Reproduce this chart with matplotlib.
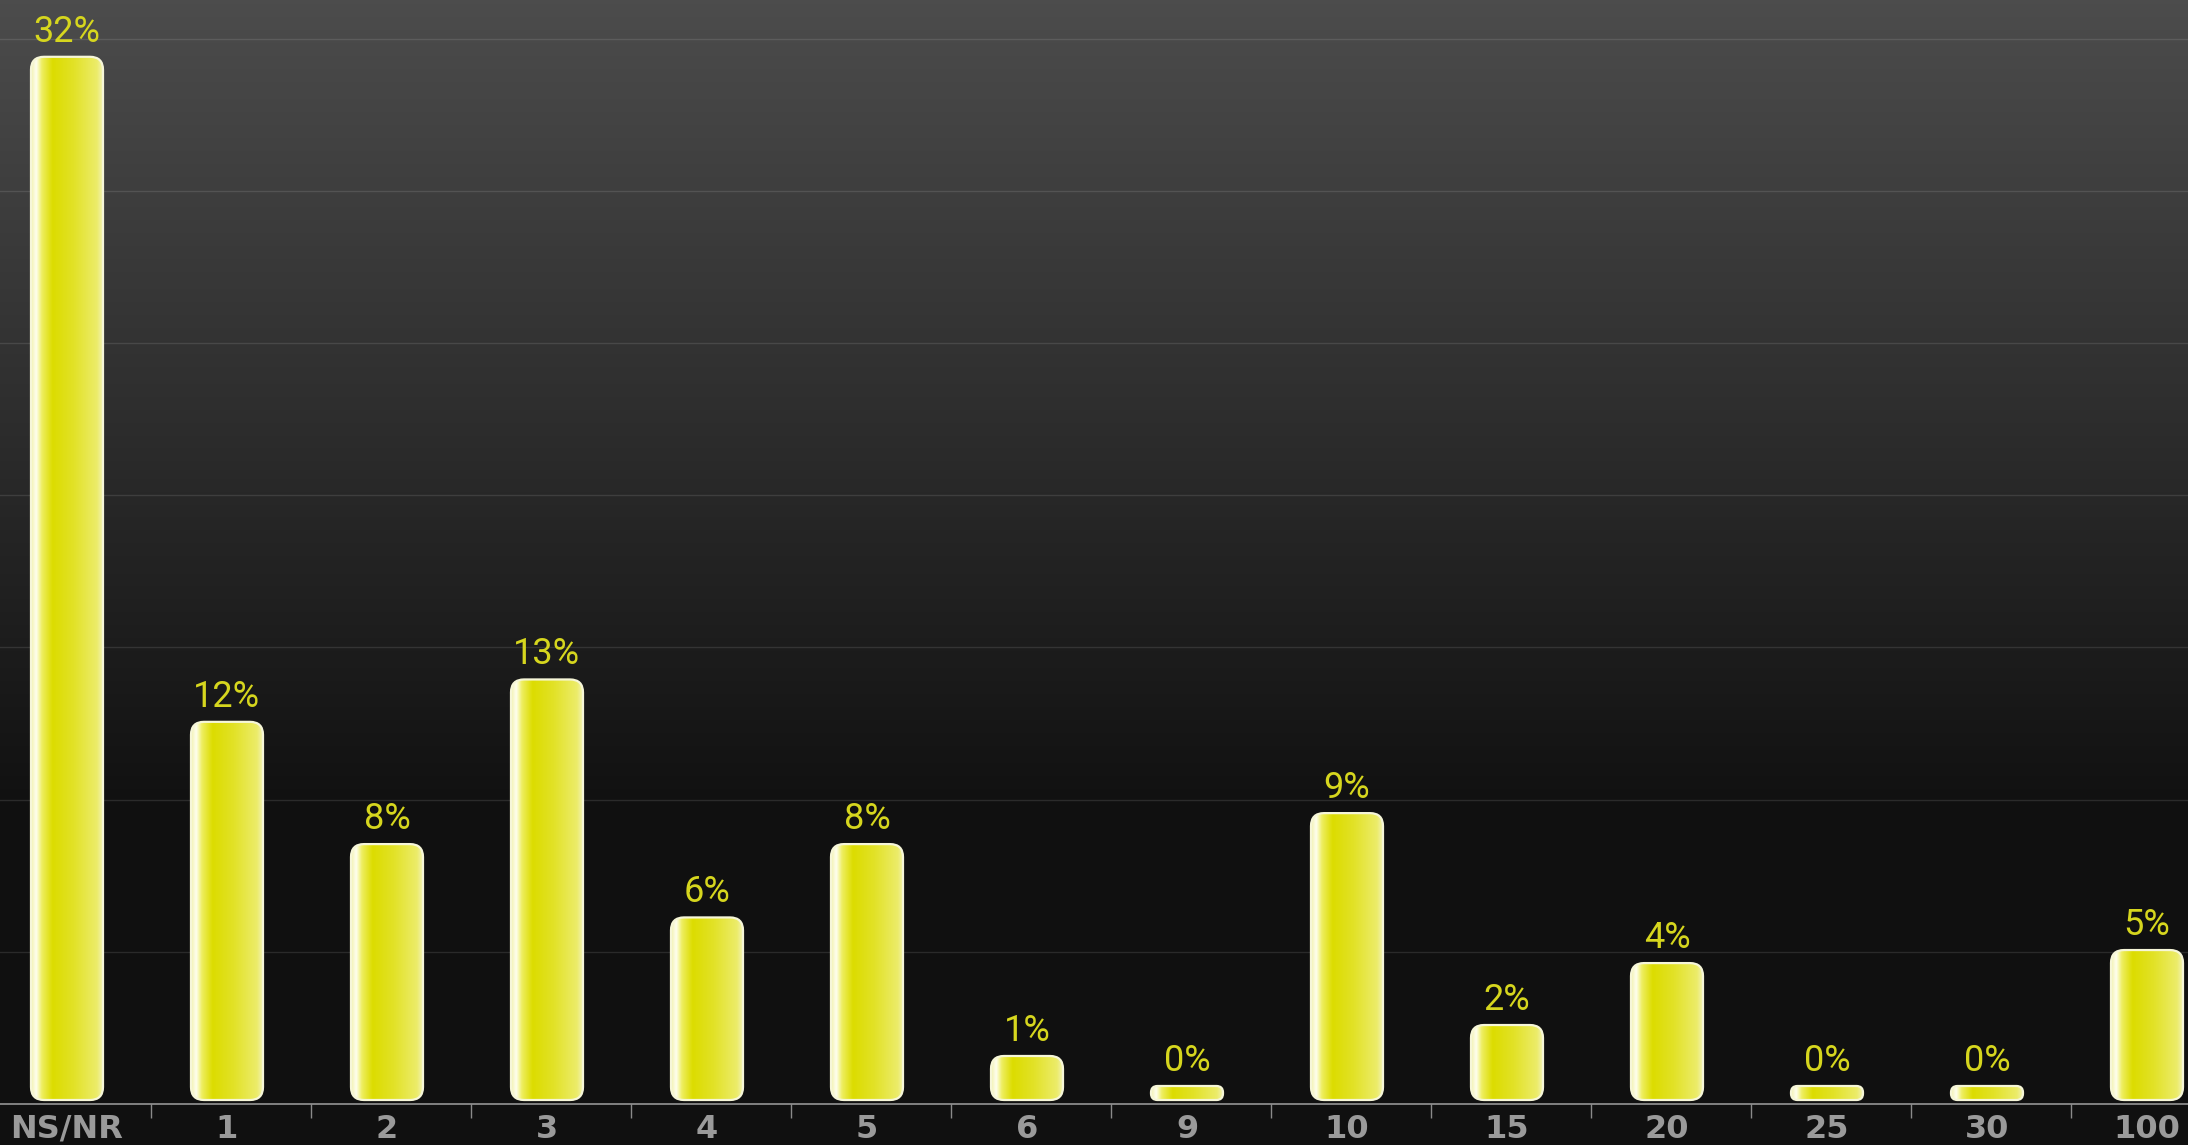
import numpy as np
import matplotlib
matplotlib.use("Agg")
import matplotlib.pyplot as plt
from matplotlib.patches import FancyBboxPatch
from matplotlib.colors import LinearSegmentedColormap

# ---- data ----
categories = ["NS/NR", "1", "2", "3", "4", "5", "6", "9", "10", "15", "20", "25", "30", "100"]
values = [32.0, 11.6, 7.85, 12.9, 5.6, 7.85, 1.35, 0.3, 8.8, 2.3, 4.2, 0.3, 0.3, 4.6]
labels = [f"{int(round(v))}%" for v in values]

# ---- figure geometry ----
W, H, DPI = 2188, 1145, 100
fig = plt.figure(figsize=(W / DPI, H / DPI), dpi=DPI)
fig.patch.set_facecolor("#101010")

axis_px = 1104          # axis line y (pixels from top)
ax = fig.add_axes([0, (H - axis_px) / H, 1, axis_px / H])

px_per_unit_y = 32.6    # pixels per percent
px_per_unit_x = 160.0   # pixels per category
ybot = -4 / px_per_unit_y
ytop = ybot + axis_px / px_per_unit_y
x0c = 67.0
xleft = -x0c / px_per_unit_x
xright = (W - x0c) / px_per_unit_x
ax.set_xlim(xleft, xright)
ax.set_ylim(ybot, ytop)

# background gradient
t = np.linspace(0, 1, 256)[:, None]  # 0 = top
top_c = np.array([76, 76, 76]) / 255
bot_c = np.array([16, 16, 16]) / 255
f = np.clip(t / 0.74, 0, 1)
img = top_c * (1 - f) + bot_c * f
img = img.reshape(256, 1, 3)
ax.imshow(img, extent=(0, 1, 0, 1), transform=ax.transAxes, aspect="auto", zorder=0)

# gridlines
grid_step = 152.2 / px_per_unit_y
for k in range(1, 8):
    ax.axhline(ybot + k * grid_step, color="white", alpha=0.11, lw=1.0, zorder=1)

# bar gradient colormap (horizontal)
bar_cmap = LinearSegmentedColormap.from_list(
    "bar",
    [(0.0, "#f2f2b0"), (0.07, "#fffff0"), (0.15, "#eeee60"), (0.30, "#dcdc00"),
     (0.60, "#e2e228"), (0.92, "#ecec6a"), (1.0, "#f2f2b0")])
gimg = np.linspace(0, 1, 200)[None, :]

bw = 72 / px_per_unit_x
aspect = px_per_unit_x / px_per_unit_y
min_h = 14 / px_per_unit_y
for i, (v, lab) in enumerate(zip(values, labels)):
    h = max(v, min_h)
    hpx = h * px_per_unit_y
    r_px = min(13.0, hpx / 2 - 0.5)
    rs = r_px / px_per_unit_x
    xl = i - bw / 2
    patch = FancyBboxPatch((xl, 0), bw, h,
                           boxstyle=f"round,pad=0,rounding_size={rs}",
                           mutation_aspect=aspect,
                           facecolor="none", edgecolor="#f6f6d8", lw=1.6, zorder=4)
    ax.add_patch(patch)
    im = ax.imshow(gimg, cmap=bar_cmap, extent=(xl, xl + bw, 0, h),
                   aspect="auto", zorder=3, interpolation="bilinear")
    im.set_clip_path(patch)
    ax.annotate(lab, (i, h), xytext=(0, 15 / 1.389), textcoords="offset points",
                ha="center", va="baseline", color="#d6d61e", fontsize=26,
                family=["Roboto", "DejaVu Sans"], zorder=5)
    ax.annotate(categories[i], (i, ybot), xytext=(0, -34 / 1.389), textcoords="offset points",
                ha="center", va="baseline", color="#9a9a9a", fontsize=23,
                fontweight="bold", family=["DejaVu Sans"], annotation_clip=False)

# axis & ticks
for s in ["top", "left", "right"]:
    ax.spines[s].set_visible(False)
ax.spines["bottom"].set_color("#a0a0a0")
ax.spines["bottom"].set_linewidth(1.1)
ax.spines["bottom"].set_zorder(6)
bounds = [i + 0.523 for i in range(len(categories) - 1)]
ax.set_xticks(bounds)
ax.set_xticklabels([])
ax.tick_params(axis="x", direction="out", length=10, width=1, color="#8a8a8a")
ax.set_yticks([])
ax.set_facecolor("#101010")

fig.savefig("out.png", dpi=DPI, facecolor=fig.get_facecolor())
